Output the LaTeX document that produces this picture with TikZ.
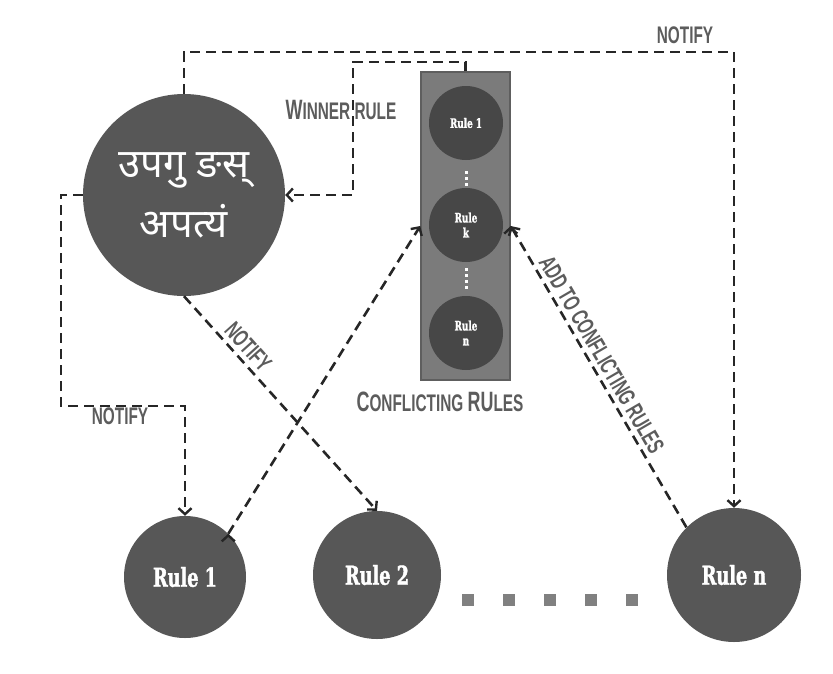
\documentclass[tikz,border=0pt]{standalone}
\usepackage{fontspec}
\usetikzlibrary{positioning,arrows.meta}
\newfontfamily\devfont[Script=Devanagari]{Noto Sans}
\newfontfamily\tagfont[FakeStretch=0.64]{Liberation Sans}
\newfontfamily\rulefont[FakeStretch=0.68, BoldFeatures={FakeBold=1.5}]{DejaVu Serif}
\definecolor{nodegray}{HTML}{575757}
\definecolor{minigray}{HTML}{474747}
\definecolor{boxgray}{HTML}{7B7B7B}
\definecolor{boxedge}{HTML}{5E5E5E}
\definecolor{taggray}{HTML}{5C5C5C}
\definecolor{dotgray}{HTML}{808080}
\tikzset{>={Straight Barb[length=6pt,width=13pt,line width=2.4pt]}}
\newcommand{\capletter}[1]{{\fontsize{28}{28}\selectfont #1}}

\begin{document}
\begin{tikzpicture}[x=1pt, y=-1pt,
    flow/.style={draw=black!85, line width=2.6pt, dash pattern=on 10pt off 6pt},
    rulenode/.style={circle, fill=nodegray, text=white, inner sep=0pt,
      font=\rulefont\bfseries\fontsize{26}{28}\selectfont},
    minirule/.style={circle, fill=minigray, text=white, inner sep=0pt, minimum size=74pt,
      align=center, font=\rulefont\bfseries\fontsize{13}{15}\selectfont},
    tag/.style={text=taggray, inner sep=1pt, font=\tagfont\bfseries\fontsize{24}{24}\selectfont}]
    \useasboundingbox (0,0) rectangle (833,673);
    % main agent
    \node[circle, fill=nodegray, text=white, minimum size=202pt, inner sep=0pt, align=center,
      font=\devfont\fontsize{40}{60}\selectfont] (agent) at (184,195) {उपगु ङस्\\अपत्यं};
    % rules
    \node[rulenode, minimum size=122pt] (r1) at (185,577) {Rule 1};
    \node[rulenode, minimum size=128pt] (r2) at (377,575) {Rule 2};
    \node[rulenode, minimum size=134pt] (rn) at (734,575) {Rule n};
    \foreach \i in {0,...,4}
      \fill[dotgray] (462+41*\i,594) rectangle ++(12,12);
    % conflicting rules
    \node[draw=boxedge, fill=boxgray, line width=1.5pt, minimum width=89pt, minimum height=308pt]
      (box) at (465.5,226) {};
    \node[minirule] (c1) at (466,123) {Rule 1};
    \node[minirule] (ck) at (466,225) {Rule\\k};
    \node[minirule] (cn) at (466,333) {Rule\\n};
    \foreach \y in {171,177,183}
      \fill[white] (464.5,\y) rectangle ++(3,3);
    \foreach \y in {268,274,280,286}
      \fill[white] (464.5,\y) rectangle ++(3,3);
    \node[tag] (cap) at (440,402) {\capletter{C}ONFLICTING \capletter{RU}LES};
    % connectors
    \coordinate (topright) at (734,52);
    \coordinate (winbend) at (353,62);
    \coordinate (leftbend) at (61,406);
    \draw[flow,->] (agent.north) |- (topright) -- (rn.north);
    \draw[flow,->] (box.north) |- (winbend) |- (agent.east);
    \draw[flow,->] (agent.west) -| (leftbend) -| (r1.north);
    \path[flow,->] (agent.south) edge node[tag, sloped, above=3pt, pos=0.28] {NOTIFY} (r2.north)
              (r1.45) edge (box.west);
    \path[flow,<-] (box.east) edge node[tag, sloped, above=3pt, pos=0.45] {ADD TO CONFLICTING RULES} (rn.135);
    \node[tag] (topnote) at (685,35) {NOTIFY};
    \node[tag] (winner) at (341,110) {\capletter{W}INNER RULE};
    \node[tag] (leftnote) at (120,416) {NOTIFY};
\end{tikzpicture}
\end{document}
